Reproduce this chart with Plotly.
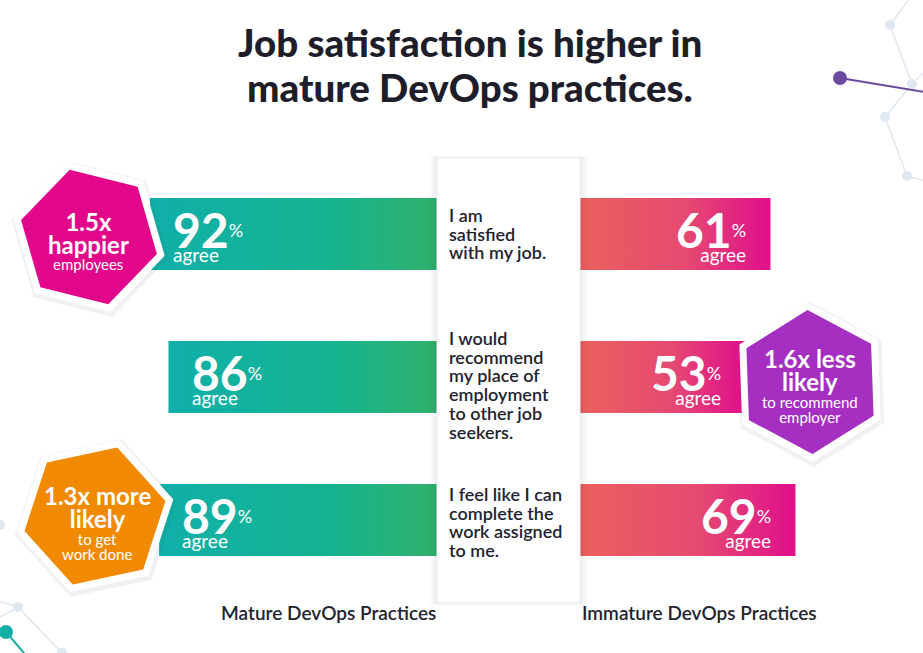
import math
import plotly.graph_objects as go

W, H = 923, 653

# ---------------- data ----------------
title_lines = ["Job satisfaction is higher in", "mature DevOps practices."]
rows = [0, 1, 2]
statements = [
    ["I am", "satisfied", "with my job."],
    ["I would", "recommend", "my place of", "employment", "to other job", "seekers."],
    ["I feel like I can", "complete the", "work assigned", "to me."],
]
mature_pct = [92, 86, 89]
immature_pct = [61, 53, 69]
group_labels = ["Mature DevOps Practices", "Immature DevOps Practices"]
badge_main = [["1.5x", "happier"], ["1.6x less", "likely"], ["1.3x more", "likely"]]
badge_sub = [["employees"], ["to recommend", "employer"], ["to get", "work done"]]
badge_colors = ["#E2078A", "#A52FC0", "#F18A00"]

# ---------------- layout constants ----------------
PX_PER_PCT = 3.12
LEFT_BASE = 437
RIGHT_BASE = 580
ROW0 = 234
ROW_STEP = 143
BAR_PX = 72
HW = BAR_PX / ROW_STEP / 2
FONT = "Lato"
DARK = "#23232f"
LEFT_SCALE = [[0, "#10AFA9"], [0.6, "#15B492"], [1, "#30B06B"]]
RIGHT_SCALE = [[0, "#EB605D"], [0.55, "#E54A71"], [1, "#E00F8C"]]


def P(x, y):
    return x / W, 1 - y / H


fig = go.Figure()

# bars (solid base)
fig.add_trace(go.Bar(x=mature_pct, y=rows, orientation="h", xaxis="x", yaxis="y",
                     width=2 * HW, marker=dict(color="#15B492", line=dict(width=0)),
                     hoverinfo="skip", showlegend=False))
fig.add_trace(go.Bar(x=immature_pct, y=rows, orientation="h", xaxis="x2", yaxis="y",
                     width=2 * HW, marker=dict(color="#E54A71", line=dict(width=0)),
                     hoverinfo="skip", showlegend=False))

# gradient overlays built from the same values
for vals, xa, scale in [(mature_pct, "x", LEFT_SCALE), (immature_pct, "x2", RIGHT_SCALE)]:
    for i, v in zip(rows, vals):
        fig.add_trace(go.Scatter(
            x=[0, v, v, 0, 0], y=[i - HW, i - HW, i + HW, i + HW, i - HW],
            xaxis=xa, yaxis="y", mode="none", fill="toself",
            fillgradient=dict(type="horizontal", colorscale=scale),
            hoverinfo="skip", showlegend=False))

shapes = []
annotations = []

# ---------------- decorative network ----------------
NODE = "#dfe7f1"
net_lines = [((912, -5), (890, 25)), ((890, 25), (912, 84)), ((912, 84), (885, 117)),
             ((885, 117), (907, 176)), ((907, 176), (930, 182)), ((912, 84), (930, 66)),
             ((-5, 620), (18, 607)), ((18, 607), (62, 653)), ((18, 607), (-5, 600))]
for (a, b) in net_lines:
    x0, y0 = P(*a); x1, y1 = P(*b)
    shapes.append(dict(type="line", xref="paper", yref="paper", x0=x0, y0=y0, x1=x1, y1=y1,
                       line=dict(color=NODE, width=1.5), layer="below"))
x0, y0 = P(840, 78); x1, y1 = P(930, 93)
shapes.append(dict(type="line", xref="paper", yref="paper", x0=x0, y0=y0, x1=x1, y1=y1,
                   line=dict(color="#6B4AA0", width=2), layer="below"))
x0, y0 = P(6, 632); x1, y1 = P(30, 660)
shapes.append(dict(type="line", xref="paper", yref="paper", x0=x0, y0=y0, x1=x1, y1=y1,
                   line=dict(color="#12AFA7", width=2), layer="below"))


def circle(cx, cy, r, color, layer="below"):
    shapes.append(dict(type="circle", xref="paper", yref="paper",
                       x0=(cx - r) / W, x1=(cx + r) / W,
                       y0=1 - (cy + r) / H, y1=1 - (cy - r) / H,
                       fillcolor=color, line=dict(width=0), layer=layer))


for (cx, cy) in [(890, 25), (912, 84), (885, 117), (907, 176), (18, 607), (62, 653), (0, 525)]:
    circle(cx, cy, 5, NODE)
circle(840, 78, 7, "#6B4AA0")
circle(6, 632, 7, "#12AFA7")

# ---------------- center panel ----------------
px0, px1, py0, py1 = 437, 580, 158, 602
for k, op in [(9, 0.012), (7, 0.015), (5, 0.018), (3, 0.022), (1.5, 0.03)]:
    a = P(px0 - k, py0 - k / 4); b = P(px1 + k, py1 + k / 2)
    shapes.append(dict(type="rect", xref="paper", yref="paper", x0=a[0], y0=b[1], x1=b[0], y1=a[1],
                       fillcolor=f"rgba(60,60,80,{op})", line=dict(width=0), layer="above"))
a = P(px0, py0); b = P(px1, py1)
shapes.append(dict(type="rect", xref="paper", yref="paper", x0=a[0], y0=b[1], x1=b[0], y1=a[1],
                   fillcolor="white", line=dict(color="#f0f1f4", width=1), layer="above"))

stmt_center_y = [233.5, 384.5, 522]
for lines, yy in zip(statements, stmt_center_y):
    txt = "<br>".join(f"<span style='font-size:18px'>{t}</span>" for t in lines)
    annotations.append(dict(text=txt, xref="paper", yref="paper", x=447 / W, y=1 - yy / H,
                            xanchor="left", yanchor="middle", align="left", showarrow=False,
                            font=dict(family=FONT, size=14.4, color=DARK, weight=600)))

# ---------------- badges (hexagons) ----------------
badge_geo = [(89, 237, 70, -16), (810, 382, 72, -2), (95, 516, 72, 18)]


def hex_path(cx, cy, r, rot):
    pts = []
    for k in range(6):
        ang = math.radians(rot + 60 * k)
        pts.append(P(cx + r * math.sin(ang), cy - r * math.cos(ang)))
    return "M " + " L ".join(f"{x:.5f},{y:.5f}" for x, y in pts) + " Z"


for (cx, cy, r, rot), col in zip(badge_geo, badge_colors):
    shapes.append(dict(type="path", xref="paper", yref="paper", path=hex_path(cx + 1, cy + 2, r + 11, rot),
                       fillcolor="rgba(80,80,100,0.08)", line=dict(width=0), layer="above"))
    shapes.append(dict(type="path", xref="paper", yref="paper", path=hex_path(cx, cy, r + 8, rot),
                       fillcolor="white", line=dict(width=0), layer="above"))
    shapes.append(dict(type="path", xref="paper", yref="paper", path=hex_path(cx, cy, r, rot),
                       fillcolor=col, line=dict(width=0), layer="above"))

# (x, centre of main lines, centre of sub lines)
badge_text_pos = [(88, 233, 264), (810, 370, 409.5), (97, 506.5, 546.5)]
for (bx, my, sy), mains, subs in zip(badge_text_pos, badge_main, badge_sub):
    main_txt = "<br>".join(f"<span style='font-size:24px;font-weight:bold'>{t}</span>" for t in mains)
    annotations.append(dict(text=main_txt, xref="paper", yref="paper", x=bx / W, y=1 - my / H,
                            xanchor="center", yanchor="middle", align="center", showarrow=False,
                            font=dict(family=FONT, size=17.5, color="white")))
    sub_txt = "<br>".join(f"<span style='font-size:15px'>{t}</span>" for t in subs)
    annotations.append(dict(text=sub_txt, xref="paper", yref="paper", x=bx / W, y=1 - sy / H,
                            xanchor="center", yanchor="middle", align="center", showarrow=False,
                            font=dict(family=FONT, size=11.5, color="white")))

# ---------------- value labels ----------------
for vals, xa, side in [(mature_pct, "x", "left"), (immature_pct, "x2", "right")]:
    for i, v in zip(rows, vals):
        shift = 21 if side == "left" else -22
        txt = (f"<span style='font-size:48px;font-weight:bold'>{v}</span>"
               f"<span style='font-size:18px;baseline-shift:11px'>%</span>"
               f"<br><span style='font-size:19px'>agree</span>")
        annotations.append(dict(text=txt, xref=xa, yref="y", x=v, y=i,
                                xanchor=side, yanchor="middle", align=side,
                                xshift=shift, yshift=1, showarrow=False,
                                font=dict(family=FONT, size=11, color="white")))

# ---------------- title and group labels ----------------
for t, yy in zip(title_lines, [42, 87]):
    annotations.append(dict(text=t, xref="paper", yref="paper", x=470 / W, y=1 - yy / H,
                            xanchor="center", yanchor="middle", showarrow=False,
                            font=dict(family=FONT, size=38.5, color="#1e1e2a", weight=900)))
for t, xx in zip(group_labels, [328, 699]):
    annotations.append(dict(text=t, xref="paper", yref="paper", x=xx / W, y=1 - 612 / H,
                            xanchor="center", yanchor="middle", showarrow=False,
                            font=dict(family=FONT, size=19, color=DARK, weight=600)))

fig.update_layout(
    width=W, height=H, margin=dict(l=0, r=0, t=0, b=0),
    paper_bgcolor="white", plot_bgcolor="rgba(0,0,0,0)",
    showlegend=False, barmode="overlay",
    xaxis=dict(domain=[0, LEFT_BASE / W], range=[LEFT_BASE / PX_PER_PCT, 0], visible=False, fixedrange=True),
    xaxis2=dict(domain=[RIGHT_BASE / W, 1], range=[0, (W - RIGHT_BASE) / PX_PER_PCT], visible=False,
                anchor="y", fixedrange=True),
    yaxis=dict(domain=[0, 1], range=[(H - ROW0) / ROW_STEP, -ROW0 / ROW_STEP], visible=False, fixedrange=True),
    shapes=shapes, annotations=annotations,
)

fig.write_html("out.html")
